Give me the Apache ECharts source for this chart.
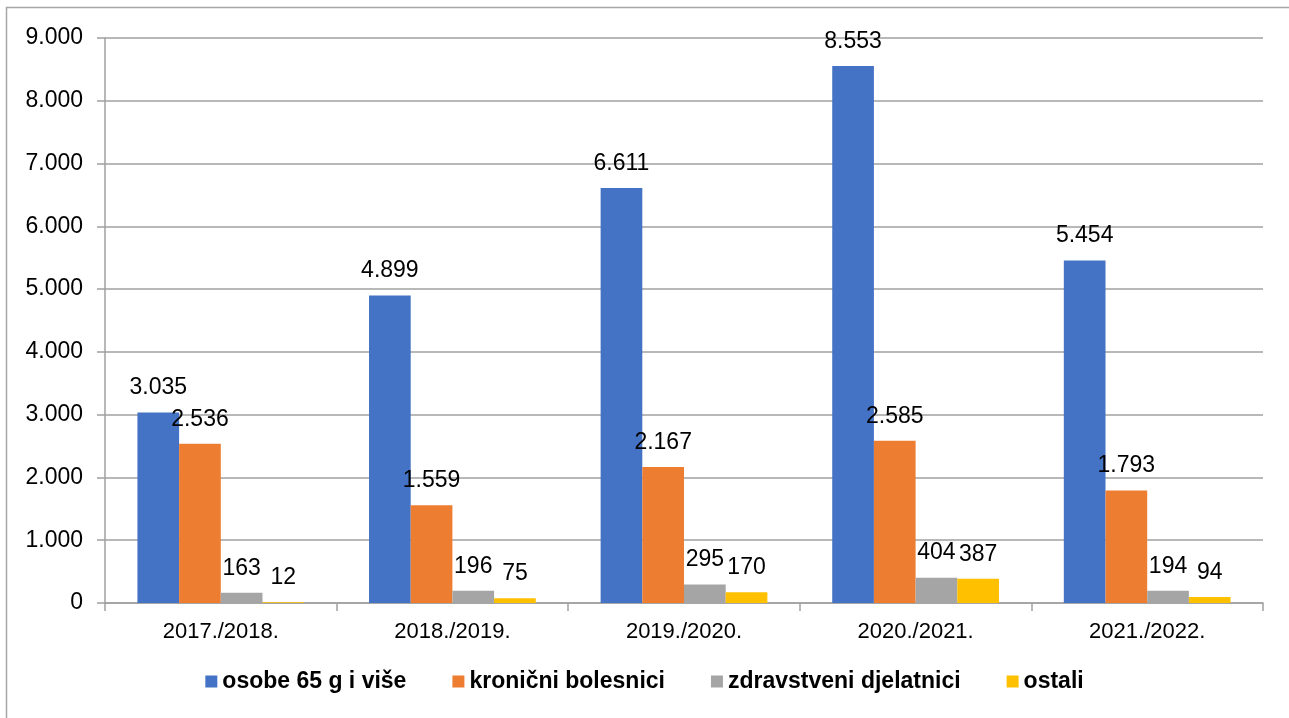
<!DOCTYPE html>
<html style="height: 100%">
<head>
    <meta charset="utf-8">
    <title>Cijepljenje</title>
    <script type="text/javascript" src="https://cdn.jsdelivr.net/npm/echarts@6/dist/echarts.min.js"></script>
</head>
<body style="height: 100%; margin: 0; background: #fff">
    <div id="container" style="width: 1289px; height: 718px"></div>
    <script type="text/javascript">
        // sezone
        var sezone = ['2017./2018.', '2018./2019.', '2019./2020.', '2020./2021.', '2021./2022.'];
        // skupine
        var osobe65 = [3035, 4899, 6611, 8553, 5454];
        var kronicni = [2536, 1559, 2167, 2585, 1793];
        var zdravstveni = [163, 196, 295, 404, 194];
        var ostali = [12, 75, 170, 387, 94];
        var imena = ['osobe 65 g i više', 'kronični bolesnici', 'zdravstveni djelatnici', 'ostali'];
        var boje = ['#4472c4', '#ed7d31', '#a5a5a5', '#ffc000'];

        // broj s točkom kao separatorom tisućica
        function fmt(v) {
            return String(v).replace(/\B(?=(\d{3})+(?!\d))/g, '.');
        }

        var myChart = echarts.init(document.getElementById('container'));

        function serija(ime, podaci, boja) {
            return {
                name: ime,
                type: 'bar',
                data: podaci,
                barGap: 0,
                barCategoryGap: '28%',
                itemStyle: { color: boja },
                label: {
                    show: true,
                    position: 'top',
                    distance: 13,
                    color: '#000',
                    fontFamily: 'Liberation Sans',
                    fontSize: 23,
                    formatter: function (p) { return fmt(p.value); }
                }
            };
        }

        var option = {
            animation: false,
            textStyle: { fontFamily: 'Liberation Sans' },
            graphic: [{
                type: 'rect',
                shape: { x: 6.5, y: 7.5, width: 1300, height: 800 },
                style: { fill: 'none', stroke: '#a6a6a6', lineWidth: 1.5 },
                silent: true
            }],
            grid: {
                left: 105,
                right: 26,
                top: 38,
                bottom: 115
            },
            legend: {
                data: imena,
                bottom: 20,
                left: 'center',
                itemWidth: 12,
                itemHeight: 12,
                itemGap: 46,
                icon: 'rect',
                textStyle: {
                    color: '#000',
                    fontSize: 23,
                    fontWeight: 'bold',
                    fontFamily: 'Liberation Sans'
                }
            },
            xAxis: {
                type: 'category',
                data: sezone,
                axisLine: { lineStyle: { color: '#a0a0a0', width: 1.5 } },
                axisTick: { show: true, length: 8, lineStyle: { color: '#a0a0a0', width: 1.5 } },
                axisLabel: { color: '#000', fontSize: 22, margin: 18 }
            },
            yAxis: {
                type: 'value',
                min: 0,
                max: 9000,
                interval: 1000,
                axisLine: { show: true, lineStyle: { color: '#a0a0a0', width: 1.5 } },
                axisTick: { show: true, length: 8, lineStyle: { color: '#a0a0a0', width: 1.5 } },
                splitLine: { lineStyle: { color: '#a0a0a0', width: 1.5 } },
                axisLabel: {
                    color: '#000',
                    fontSize: 23,
                    margin: 22,
                    formatter: function (v) { return fmt(v); }
                }
            },
            series: [
                serija(imena[0], osobe65, boje[0]),
                serija(imena[1], kronicni, boje[1]),
                serija(imena[2], zdravstveni, boje[2]),
                serija(imena[3], ostali, boje[3])
            ]
        };
        myChart.setOption(option, true);
    </script>
</body>
</html>
